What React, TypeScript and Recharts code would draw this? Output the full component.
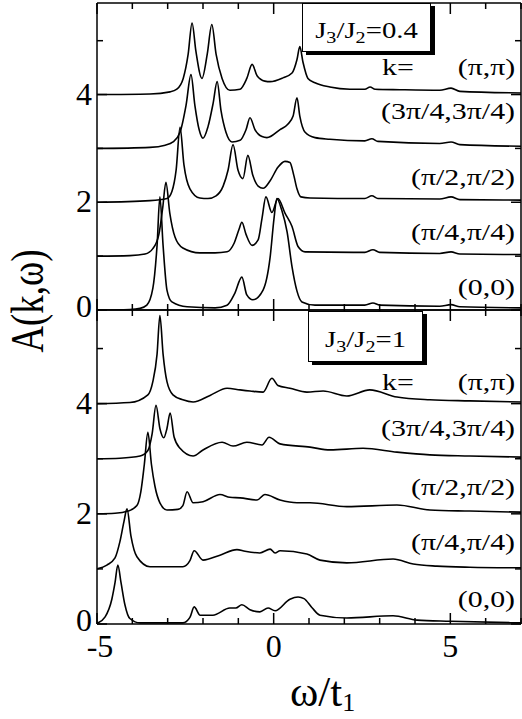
import React from 'react';
import { LineChart, Line, XAxis, YAxis } from 'recharts';

// A(k,w), offsets (0..4) already included: [omega, A]
// upper panel, J3/J2 = 0.4
const topPiPi: [number, number][] = [
  [-5, 4.0], [-3.5, 4.01], [-2.93, 4.05], [-2.74, 4.1], [-2.56, 4.3], [-2.42, 4.75], [-2.31, 5.33],
  [-2.2, 4.8], [-2.03, 4.3], [-1.88, 4.75], [-1.75, 5.3], [-1.63, 4.75], [-1.46, 4.3], [-1.24, 4.08],
  [-0.95, 4.1], [-0.76, 4.3], [-0.61, 4.56], [-0.47, 4.35], [-0.25, 4.25], [-0.1, 4.24], [0.26, 4.31],
  [0.52, 4.4], [0.66, 4.65], [0.74, 4.89], [0.83, 4.6], [0.97, 4.3], [1.17, 4.22], [1.59, 4.14],
  [2.16, 4.1], [2.58, 4.1], [2.73, 4.14], [2.87, 4.1], [3.57, 4.09], [4.7, 4.08], [5.02, 4.12],
  [5.27, 4.06], [7, 4.03],
];
const top34: [number, number][] = [
  [-5, 3.0], [-3.5, 3.02], [-3.07, 3.06], [-2.85, 3.12], [-2.65, 3.3], [-2.48, 3.8], [-2.34, 4.37],
  [-2.23, 3.8], [-2.11, 3.35], [-2.0, 3.19], [-1.86, 3.4], [-1.71, 3.85], [-1.6, 4.24], [-1.49, 3.7],
  [-1.35, 3.3], [-1.18, 3.12], [-0.95, 3.15], [-0.78, 3.35], [-0.67, 3.57], [-0.53, 3.35], [-0.33, 3.22],
  [-0.19, 3.2], [0.18, 3.35], [0.4, 3.45], [0.55, 3.6], [0.66, 3.94], [0.74, 3.6], [0.89, 3.3],
  [1.17, 3.2], [1.59, 3.17], [2.58, 3.14], [2.78, 3.18], [2.95, 3.13], [4.7, 3.09], [5.02, 3.12],
  [5.27, 3.07], [7, 3.04],
];
const top12: [number, number][] = [
  [-5, 2.0], [-3.5, 2.03], [-3.02, 2.07], [-2.88, 2.2], [-2.76, 2.6], [-2.65, 3.39], [-2.54, 2.7],
  [-2.37, 2.25], [-2.09, 2.08], [-1.86, 2.07], [-1.63, 2.12], [-1.43, 2.3], [-1.29, 2.6], [-1.15, 3.07],
  [-1.01, 2.6], [-0.87, 2.44], [-0.73, 2.87], [-0.59, 2.5], [-0.44, 2.3], [-0.3, 2.26], [-0.1, 2.4],
  [0.12, 2.65], [0.32, 2.76], [0.46, 2.74], [0.57, 2.5], [0.66, 2.25], [0.77, 2.1], [1.03, 2.08],
  [2.58, 2.07], [2.78, 2.12], [2.95, 2.07], [4.7, 2.06], [5.02, 2.1], [5.27, 2.05], [7, 2.04],
];
const top14: [number, number][] = [
  [-5, 1.0], [-4.07, 1.01], [-3.64, 1.04], [-3.42, 1.14], [-3.25, 1.4], [-3.14, 1.9], [-3.05, 2.37],
  [-2.94, 1.8], [-2.79, 1.35], [-2.57, 1.15], [-2.09, 1.06], [-1.66, 1.06], [-1.32, 1.08], [-1.12, 1.24],
  [-0.98, 1.5], [-0.9, 1.63], [-0.78, 1.4], [-0.61, 1.2], [-0.44, 1.3], [-0.33, 1.7], [-0.22, 2.1],
  [-0.05, 1.81], [0.12, 2.07], [0.32, 1.8], [0.52, 1.55], [0.69, 1.18], [0.89, 1.08], [2.58, 1.07],
  [2.81, 1.12], [3.0, 1.07], [4.7, 1.05], [5.02, 1.08], [5.27, 1.04], [7, 1.03],
];
const top00: [number, number][] = [
  [-5, 0.0], [-4.07, 0.01], [-3.78, 0.03], [-3.59, 0.09], [-3.42, 0.4], [-3.3, 1.2], [-3.22, 2.1],
  [-3.13, 1.2], [-3.02, 0.37], [-2.88, 0.15], [-2.45, 0.06], [-1.66, 0.04], [-1.32, 0.09], [-1.1, 0.31],
  [-0.9, 0.61], [-0.76, 0.28], [-0.59, 0.19], [-0.3, 0.37], [-0.1, 0.98], [0.01, 1.7], [0.09, 2.07],
  [0.23, 1.85], [0.38, 1.45], [0.52, 0.8], [0.66, 0.35], [0.8, 0.15], [1.17, 0.09], [2.58, 0.09],
  [2.81, 0.13], [3.0, 0.09], [4.7, 0.07], [5.02, 0.1], [5.27, 0.06], [7, 0.04],
];

// lower panel, J3/J2 = 1
const botPiPi: [number, number][] = [
  [-5, 4.0], [-4.07, 4.02], [-3.56, 4.16], [-3.42, 4.4], [-3.3, 4.9], [-3.22, 5.6], [-3.13, 4.9],
  [-3.02, 4.4], [-2.85, 4.16], [-2.57, 4.07], [-2.28, 4.03], [-1.8, 4.15], [-1.32, 4.28], [-0.95, 4.25],
  [-0.67, 4.23], [-0.3, 4.21], [-0.05, 4.46], [0.12, 4.33], [0.46, 4.28], [0.94, 4.21], [1.4, 4.23],
  [2.07, 4.14], [2.72, 4.25], [3.49, 4.12], [4.42, 4.07], [5.55, 4.05], [7, 4.03],
];
const bot34: [number, number][] = [
  [-5, 3.0], [-4.35, 3.01], [-3.78, 3.05], [-3.56, 3.15], [-3.44, 3.45], [-3.33, 3.97], [-3.22, 3.55],
  [-3.11, 3.38], [-3.02, 3.55], [-2.93, 3.83], [-2.82, 3.4], [-2.65, 3.19], [-2.28, 3.05], [-2.0, 3.16],
  [-1.46, 3.3], [-1.15, 3.23], [-0.76, 3.3], [-0.33, 3.25], [-0.13, 3.39], [0.18, 3.27], [1.03, 3.21],
  [1.6, 3.16], [2.53, 3.19], [3.49, 3.12], [4.42, 3.07], [5.55, 3.05], [7, 3.03],
];
const bot12: [number, number][] = [
  [-5, 2.0], [-4.49, 2.01], [-4.12, 2.05], [-3.87, 2.15], [-3.76, 2.4], [-3.66, 2.9], [-3.56, 3.48],
  [-3.46, 2.9], [-3.36, 2.5], [-3.22, 2.2], [-3.02, 2.07], [-2.71, 2.08], [-2.57, 2.15], [-2.45, 2.4],
  [-2.28, 2.2], [-2.0, 2.22], [-1.52, 2.35], [-1.24, 2.3], [-0.95, 2.29], [-0.47, 2.25], [-0.25, 2.35],
  [0.18, 2.25], [0.66, 2.2], [1.03, 2.2], [2.07, 2.13], [3.49, 2.16], [4.42, 2.07], [5.55, 2.05], [7, 2.03],
];
const bot14: [number, number][] = [
  [-5, 1.0], [-4.72, 1.07], [-4.49, 1.2], [-4.35, 1.5], [-4.24, 1.85], [-4.15, 2.09], [-4.04, 1.6],
  [-3.87, 1.22], [-3.5, 1.04], [-2.57, 1.04], [-2.37, 1.15], [-2.25, 1.33], [-2.0, 1.16], [-1.52, 1.25],
  [-1.04, 1.35], [-0.81, 1.32], [-0.39, 1.29], [-0.1, 1.36], [0.04, 1.29], [0.18, 1.33], [0.94, 1.27],
  [1.31, 1.16], [2.07, 1.11], [3.38, 1.18], [3.95, 1.09], [4.62, 1.05], [5.55, 1.03], [7, 1.02],
];
const bot00: [number, number][] = [
  [-5, 0.01], [-4.77, 0.13], [-4.58, 0.45], [-4.49, 0.75], [-4.41, 1.07], [-4.32, 0.75], [-4.21, 0.35],
  [-4.07, 0.1], [-3.78, 0.02], [-2.57, 0.02], [-2.37, 0.12], [-2.25, 0.31], [-2.08, 0.16], [-1.72, 0.16],
  [-1.24, 0.29], [-1.07, 0.29], [-0.9, 0.35], [-0.67, 0.26], [-0.39, 0.22], [-0.16, 0.29], [0.04, 0.24],
  [0.46, 0.45], [0.69, 0.49], [0.86, 0.46], [1.08, 0.3], [1.31, 0.16], [2.07, 0.11], [3.38, 0.15],
  [4.06, 0.07], [5.0, 0.05], [7, 0.02],
];

const kLabels = ['(π,π)', '(3π/4,3π/4)', '(π/2,π/2)', '(π/4,π/4)', '(0,0)'];
const X_TICKS = [-5, -4, -3, -2, -1, 0, 1, 2, 3, 4, 5, 6, 7];
const X_LABELS = [-5, 0, 5];
const Y_TICKS = [0, 1, 2, 3, 4, 5];
const Y_LABELS = [0, 2, 4];

const SERIF = '"Liberation Serif", "Times New Roman", serif';
const W = 522;
const H = 719;

const rows = (pts: [number, number][]) => pts.map(([w, a]) => ({ w, a }));

// tick marks point into the plot; dir = +1 down/right, -1 up/left
const xTick = (dir: number, withLabel: boolean) => (p: any) => {
  const v = p.payload.value;
  const len = v % 5 === 0 ? 11 : 6;
  return (
    <g>
      <line x1={p.x} x2={p.x} y1={p.y} y2={p.y + dir * len} stroke="#000" strokeWidth={1.5} />
      {withLabel && X_LABELS.includes(v) ? (
        <text x={p.x + (v < 0 ? 3 : 0)} y={p.y + 33} textAnchor="middle" fontSize={32} fontFamily={SERIF} fill="#000">{v}</text>
      ) : null}
    </g>
  );
};

const yTick = (dir: number, withLabel: boolean) => (p: any) => {
  const v = p.payload.value;
  const len = v % 2 === 0 ? 10 : 6;
  return (
    <g>
      <line x1={p.x} x2={p.x + dir * len} y1={p.y} y2={p.y} stroke="#000" strokeWidth={1.5} />
      {withLabel && Y_LABELS.includes(v) ? (
        <text x={p.x - 5} y={p.y + (v === 0 ? 7 : 10)} textAnchor="end" fontSize={32} fontFamily={SERIF} fill="#000">{v}</text>
      ) : null}
    </g>
  );
};

const frame = { stroke: '#000', strokeWidth: 1.5 };

// axes get 1px of room (a 0px axis is not drawn), so margins are 1px smaller
const Panel = ({ series, top, bottom, xLabels }: { series: [number, number][][]; top: number; bottom: number; xLabels: boolean }) => (
  <div style={{ position: 'absolute', left: 0, top: 0 }}>
    <LineChart width={W} height={H} margin={{ top: top - 1, right: 0, bottom: bottom - 1, left: 96 }}>
      <XAxis xAxisId={0} dataKey="w" type="number" domain={[-5, 7]} ticks={X_TICKS} interval={0}
        allowDataOverflow height={1} tickSize={0} tickMargin={0}
        axisLine={frame} tickLine={false} tick={xTick(-1, xLabels)} />
      <XAxis xAxisId="t" orientation="top" dataKey="w" type="number" domain={[-5, 7]} ticks={X_TICKS} interval={0}
        allowDataOverflow height={1} tickSize={0} tickMargin={0}
        axisLine={frame} tickLine={false} tick={xTick(1, false)} />
      <YAxis yAxisId={0} type="number" domain={[0, 5.7]} ticks={Y_TICKS} interval={0} allowDataOverflow
        width={1} tickSize={0} tickMargin={0}
        axisLine={frame} tickLine={false} tick={yTick(1, true)} />
      <YAxis yAxisId="r" orientation="right" type="number" domain={[0, 5.7]} ticks={Y_TICKS} interval={0}
        allowDataOverflow width={1} tickSize={0} tickMargin={0}
        axisLine={frame} tickLine={false} tick={yTick(-1, false)} />
      {series.map((s, i) => (
        <Line key={i} data={rows(s)} dataKey="a" type="monotone" stroke="#000" strokeWidth={1.6}
          dot={false} activeDot={false} isAnimationActive={false} />
      ))}
    </LineChart>
  </div>
);

const txt: React.CSSProperties = {
  position: 'absolute', fontFamily: SERIF, lineHeight: 1, whiteSpace: 'nowrap', color: '#000',
};

const sub: React.CSSProperties = { fontSize: '0.7em', verticalAlign: '-0.28em' };

const KLabel = ({ text, baseline }: { text: string; baseline: number }) => (
  <div style={{ ...txt, right: 7, top: baseline - 21, fontSize: 23, transform: 'scaleX(1.3)', transformOrigin: 'right' }}>
    {text}
  </div>
);

const RatioBox = ({ left, top, width, height, value, baseline }: any) => (
  <div style={{
    position: 'absolute', left, top, width, height, boxSizing: 'border-box', background: '#fff',
    border: '1.5px solid #000', boxShadow: '4px 3px 0 #000',
  }}>
    <div style={{ ...txt, left: 0, width: '100%', textAlign: 'center', top: baseline - top - 21, fontSize: 23, transform: 'scaleX(1.25)' }}>
      J<span style={sub}>3</span>/J<span style={sub}>2</span>={value}
    </div>
  </div>
);

const topBase = [77, 121, 187, 242, 297];
const botBase = [392, 438, 497, 552, 609];

export default function App() {
  return (
    <div style={{ position: 'absolute', left: 0, top: 0, width: W, height: H, background: '#fff', overflow: 'hidden' }}>
      <Panel series={[top00, top14, top12, top34, topPiPi]} top={3} bottom={H - 310} xLabels={false} />
      <Panel series={[bot00, bot14, bot12, bot34, botPiPi]} top={310} bottom={H - 624} xLabels />

      <RatioBox left={302} top={3} width={129} height={49} value="0.4" baseline={39} />
      <RatioBox left={308} top={311} width={115} height={51} value="1" baseline={348} />

      <div style={{ ...txt, left: 382, top: topBase[0] - 21, fontSize: 23, transform: 'scaleX(1.3)', transformOrigin: 'left' }}>k=</div>
      <div style={{ ...txt, left: 382, top: botBase[0] - 21, fontSize: 23, transform: 'scaleX(1.3)', transformOrigin: 'left' }}>k=</div>
      {kLabels.map((t, i) => <KLabel key={`t${i}`} text={t} baseline={topBase[i]} />)}
      {kLabels.map((t, i) => <KLabel key={`b${i}`} text={t} baseline={botBase[i]} />)}

      <div style={{ ...txt, left: 27.5, top: 301, fontSize: 46, lineHeight: 0.8, transform: 'translate(-50%, -50%) rotate(-90deg) scaleX(0.8)' }}>
        A(k,ω)
      </div>
      <div style={{ ...txt, left: 290, top: 670, fontSize: 43 }}>
        ω/t<span style={{ fontSize: 26, verticalAlign: -5, lineHeight: 0 }}>1</span>
      </div>
    </div>
  );
}
